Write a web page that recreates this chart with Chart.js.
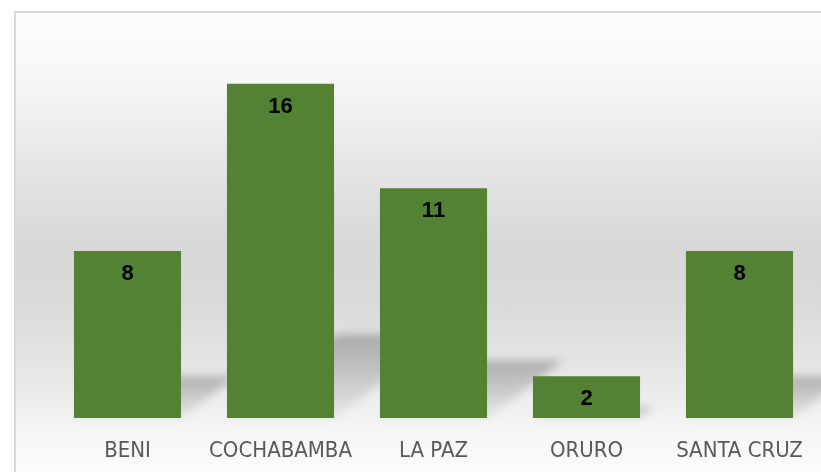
<!DOCTYPE html>
<html>
<head>
<meta charset="utf-8">
<script src="https://cdn.jsdelivr.net/npm/chart.js@4.4.1/dist/chart.umd.min.js"></script>
<style>
  html, body { margin: 0; padding: 0; background: #ffffff; }
  #frame {
    position: absolute; left: 14px; top: 11px; width: 807px; height: 461px;
    border-left: 2px solid #d9d9d9; border-top: 2px solid #d9d9d9;
    box-sizing: border-box;
    background: linear-gradient(to bottom, #fdfdfd 0%, #f6f6f6 15%, #e4e4e4 35%, #d8d8d8 50%, #d9d9d9 62%, #e8e8e8 80%, #f7f7f7 92%, #fbfbfb 100%);
  }
  #wrap { position: absolute; left: 0; top: 0; width: 821px; height: 472px; }
</style>
</head>
<body>
<div id="frame"></div>
<div id="wrap"><canvas id="barChart"></canvas></div>
<script>
(function () {
  "use strict";

  // Chart data
  const departamentos = ['BENI', 'COCHABAMBA', 'LA PAZ', 'ORURO', 'SANTA CRUZ'];
  const cantidades = [8, 16, 11, 2, 8];

  const barGreen = '#548235';

  // soft floor shadow behind every bar
  const barShadows = {
    id: 'barShadows',
    beforeDatasetsDraw(chart) {
      const ctx = chart.ctx;
      const meta = chart.getDatasetMeta(0);
      ctx.save();
      ctx.filter = 'blur(4px)';
      meta.data.forEach(function (bar) {
        const h = bar.base - bar.y;
        const left = bar.x - bar.width / 2;
        const right = bar.x + bar.width / 2;
        const dx = h * 0.33, dy = h * 0.25;
        const grad = ctx.createLinearGradient(0, bar.base - dy, 0, bar.base);
        grad.addColorStop(0, 'rgba(0,0,0,0.24)');
        grad.addColorStop(1, 'rgba(0,0,0,0.04)');
        ctx.fillStyle = grad;
        ctx.beginPath();
        ctx.moveTo(left, bar.base);
        ctx.lineTo(right, bar.base);
        ctx.lineTo(right + dx, bar.base - dy);
        ctx.lineTo(left + dx, bar.base - dy);
        ctx.closePath();
        ctx.fill();
      });
      ctx.restore();
    }
  };

  // value labels inside the top of each bar
  const insideLabels = {
    id: 'insideLabels',
    afterDatasetsDraw(chart) {
      const ctx = chart.ctx;
      const meta = chart.getDatasetMeta(0);
      ctx.save();
      ctx.font = "bold 22px 'Liberation Sans', Arial, sans-serif";
      ctx.fillStyle = '#000000';
      ctx.textAlign = 'center';
      ctx.textBaseline = 'middle';
      meta.data.forEach(function (bar, i) {
        ctx.fillText(String(cantidades[i]), bar.x, bar.y + 23);
      });
      ctx.restore();
    }
  };

  const ctx = document.getElementById('barChart').getContext('2d');
  new Chart(ctx, {
    type: 'bar',
    data: {
      labels: departamentos,
      datasets: [{
        data: cantidades,
        backgroundColor: barGreen,
        borderWidth: 0,
        barPercentage: 0.7,
        categoryPercentage: 1.0
      }]
    },
    options: {
      responsive: true,
      maintainAspectRatio: false,
      animation: false,
      layout: { padding: { left: 51, right: 5, top: 42, bottom: 0 } },
      scales: {
        x: {
          grid: { display: false, drawTicks: false },
          border: { display: false },
          ticks: {
            color: '#595959',
            padding: 20,
            maxRotation: 0,
            autoSkip: false,
            font: { family: "'DejaVu Sans Condensed', 'Liberation Sans', Arial, sans-serif", size: 22 }
          },
          afterFit: function (scale) {
            scale.height = 54;
            scale.paddingLeft = 0;
            scale.paddingRight = 0;
          }
        },
        y: {
          display: false,
          min: 0,
          max: 18
        }
      },
      plugins: {
        legend: { display: false },
        tooltip: { enabled: false }
      }
    },
    plugins: [barShadows, insideLabels]
  });
})();
</script>
</body>
</html>
